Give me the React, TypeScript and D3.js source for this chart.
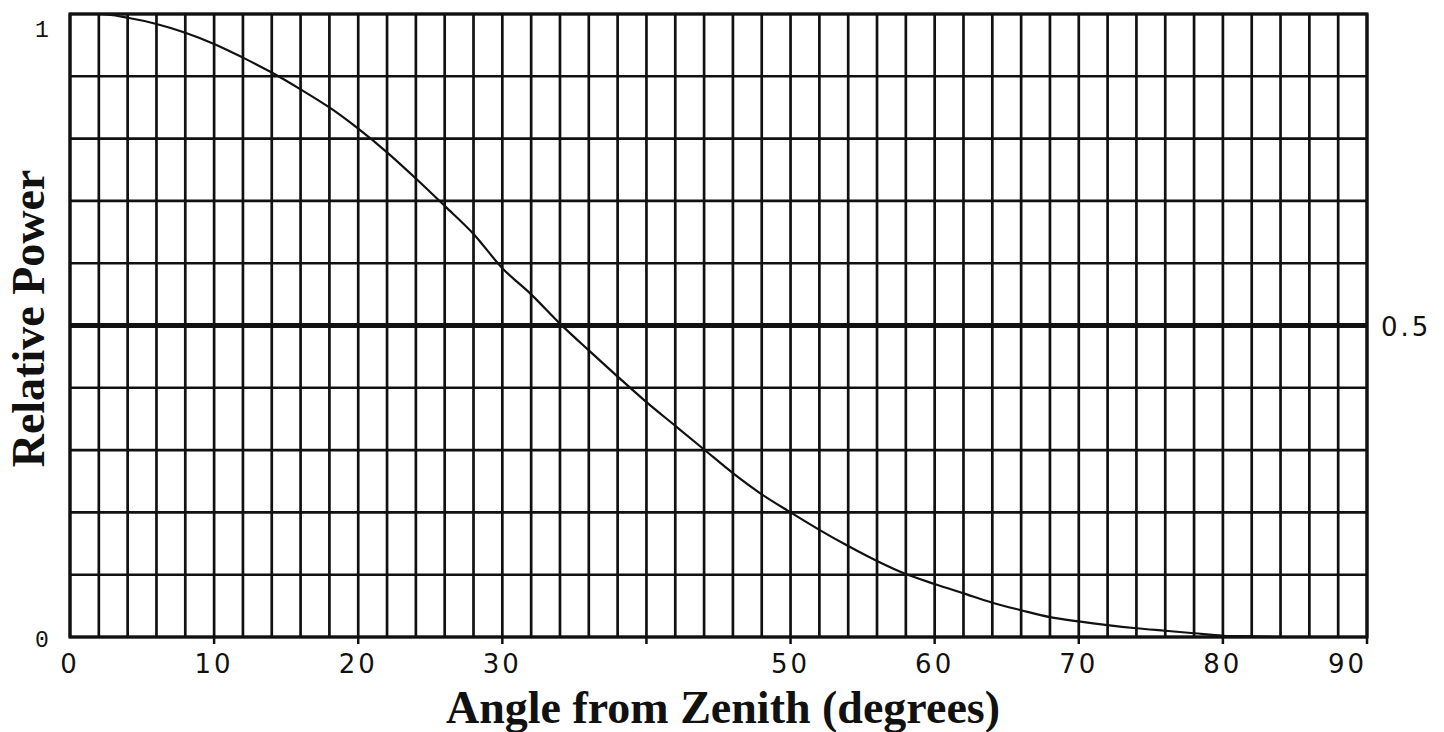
import React from 'react';
import * as d3 from 'd3';

// curve (degrees from zenith -> relative power)
const angles = [0, 2, 4, 6, 8, 10, 12, 14, 16, 18, 20, 22, 24, 26, 28, 30, 32, 34, 36, 38, 40, 42, 44,
    46, 48, 50, 52, 54, 56, 58, 60, 62, 64, 66, 68, 70, 72, 74, 76, 78, 80, 82, 84];
const power = [1.0, 1.0, 0.994, 0.984, 0.97, 0.952, 0.93, 0.906, 0.879, 0.85, 0.816, 0.778, 0.736, 0.692,
    0.647, 0.592, 0.55, 0.503, 0.46, 0.418, 0.377, 0.339, 0.301, 0.263, 0.229, 0.2, 0.172, 0.146, 0.122,
    0.101, 0.085, 0.07, 0.055, 0.043, 0.032, 0.025, 0.019, 0.014, 0.01, 0.006, 0.002, 0.001, 0.0];

const xTickLabels = ['0', '10', '20', '30', '50', '60', '70', '80', '90'];
const xTickValues = [0, 10, 20, 30, 50, 60, 70, 80, 90];
const yLabels = [{ v: 0, t: '0' }, { v: 1, t: '1' }];

const width = 1444;
const height = 732;
const margin = { left: 70, right: 77, top: 14, bottom: 95 };

const App = () => {
    const x = d3.scaleLinear().domain([0, 90]).range([margin.left, width - margin.right]);
    const y = d3.scaleLinear().domain([0, 1]).range([height - margin.bottom, margin.top]);

    const vLines = d3.range(0, 91, 2);
    const hLines = d3.range(0, 11).map(i => i / 10);
    const tenTicks = d3.range(10, 91, 10);

    const line = d3.line<number>()
        .x((_, i) => x(angles[i]))
        .y(d => y(d))
        .curve(d3.curveMonotoneX);

    const hand = { fontFamily: '"DejaVu Sans", sans-serif', fontSize: 26, letterSpacing: 3 };
    const typed = { fontFamily: '"Liberation Mono", monospace', fontSize: 23 };

    return (
        <svg width={width} height={height} style={{ position: 'absolute', left: 0, top: 0, background: '#fff' }}>
            <g stroke="#111">
                {vLines.map(v => (
                    <line key={'v' + v} x1={x(v)} x2={x(v)} y1={y(1)} y2={y(0)} strokeWidth={2.7} />
                ))}
                {hLines.map(v => (
                    <line key={'h' + v} x1={x(0)} x2={x(90)} y1={y(v)} y2={y(v)}
                        strokeWidth={v === 0.5 ? 4.8 : 2.6} />
                ))}
                {tenTicks.map(v => (
                    <line key={'t' + v} x1={x(v)} x2={x(v)} y1={y(0)} y2={y(0) + 7} strokeWidth={2.5} />
                ))}
                <rect x={x(0)} y={y(1)} width={x(90) - x(0)} height={y(0) - y(1)} fill="none" strokeWidth={3.2} />
            </g>

            <path d={line(power) || ''} fill="none" stroke="#111" strokeWidth={2.2} />

            {/* the typed "1" sits a little below the top edge in the scan */}
            {yLabels.map(d => (
                <text key={d.t} x={42} y={y(d.v) + (d.v === 1 ? 23 : 10)} textAnchor="middle" {...typed} fill="#111">{d.t}</text>
            ))}
            <text x={x(90) + 14} y={y(0.5) + 10} {...hand} fill="#111">0.5</text>

            {xTickValues.map((v, i) => (
                <text key={'xl' + v} x={x(v)} y={y(0) + 36} textAnchor={v === 90 ? 'end' : 'middle'}
                    {...hand} fill="#111">{xTickLabels[i]}</text>
            ))}

            <text x={723} y={723} textAnchor="middle" fontFamily='"Liberation Serif", serif'
                fontWeight="bold" fontSize={46} fill="#111">Angle from Zenith (degrees)</text>
            <text transform={`translate(44, ${y(0.5) - 7}) rotate(-90)`} textAnchor="middle"
                fontFamily='"Liberation Serif", serif' fontWeight="bold" fontSize={46} fill="#111">Relative Power</text>
        </svg>
    );
};

export default App;
